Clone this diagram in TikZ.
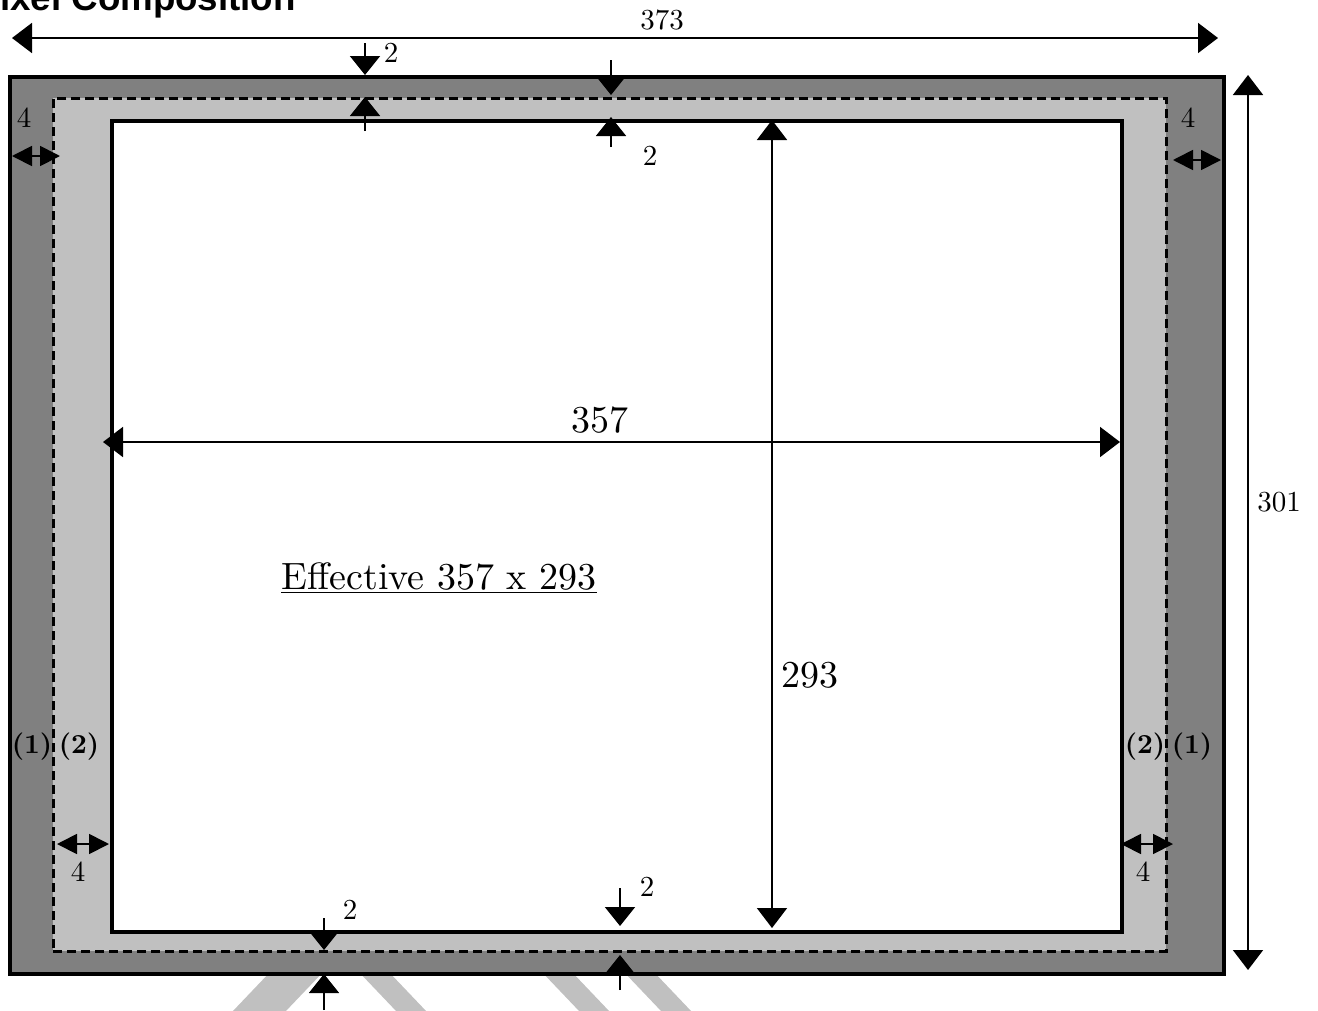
\documentclass[tikz,border=0pt]{standalone}
\usepackage{fontspec}
\setmainfont{lmroman10-regular.otf}[BoldFont=lmroman10-bold.otf]
\newfontfamily\titlefont{Liberation Sans}
\usetikzlibrary{arrows.meta}
\definecolor{darkband}{HTML}{808080}
\definecolor{lightband}{HTML}{C0C0C0}
\begin{document}
\begin{tikzpicture}[x=1pt,y=-1pt,
  stripe/.style={fill=lightband,draw=none},
  frameline/.style={draw=black,line width=4pt},
  dimline/.style={line width=1.8pt,{Triangle[length=20pt,width=30pt]}-{Triangle[length=20pt,width=30pt]}},
  marker/.style={line width=1.8pt,-{Triangle[length=19pt,width=30pt]}},
  quad/.style={line width=1.8pt,{Triangle[length=20pt,width=20pt]}-{Triangle[length=20pt,width=20pt]}},
  small/.style={inner sep=0pt,font=\fontsize{29}{31}\selectfont},
  big/.style={inner sep=0pt,font=\fontsize{38}{40}\selectfont},
  layer/.style={inner sep=0pt,font=\bfseries\fontsize{27.5}{29}\selectfont}]
\useasboundingbox (0,0) rectangle (1318,1010);
% title (cut off)
\node[anchor=base west,inner sep=0pt,font=\titlefont\bfseries\fontsize{36.7}{40}\selectfont] (title) at (-24.5,10) {Pixel Composition};
% stripes below the frame
\fill[stripe] (232,1012) -- (285,1012) -- (325,970) -- (272,970) -- cycle;
\fill[stripe] (357,970) -- (387,970) -- (427,1012) -- (397,1012) -- cycle;
\fill[stripe] (540,970) -- (570,970) -- (610,1012) -- (580,1012) -- cycle;
\fill[stripe] (622,970) -- (652,970) -- (692,1012) -- (662,1012) -- cycle;
% frames
\node[frameline,fill=darkband,minimum width=1214pt,minimum height=897pt,inner sep=0pt,anchor=north west] (outer) at (8,75) {};
\node[draw=black,dashed,dash pattern=on 9pt off 5pt,line width=2.5pt,fill=lightband,minimum width=1113pt,minimum height=853pt,inner sep=0pt,anchor=north west] (dash) at (52,97) {};
\node[frameline,fill=white,minimum width=1010pt,minimum height=811pt,inner sep=0pt,anchor=north west] (inner) at (110,118.5) {};
% overall dimensions
\coordinate (wL) at (12,38); \coordinate (wR) at (1218,38);
\draw[dimline] (wL) -- (wR);
\node[small] (w) at (662,20) {373};
\coordinate (hT) at (1248,75); \coordinate (hB) at (1248,970);
\draw[dimline] (hT) -- (hB);
\node[small] (h) at (1279,502) {301};
% effective dimensions
\coordinate (eL) at (103,442); \coordinate (eR) at (1120,442);
\draw[dimline] (eL) -- (eR);
\node[big] (ew) at (600,420) {357};
\coordinate (eT) at (772,120); \coordinate (eB) at (772,928);
\draw[dimline] (eT) -- (eB);
\node[big] (eh) at (810,675) {293};
\node[big] (eff) at (439,578) {\underline{Effective 357 x 293}};
% 2-markers top
\coordinate (a1) at (365,43); \coordinate (a2) at (365,75);
\coordinate (a3) at (365,131); \coordinate (a4) at (365,97);
\draw[marker] (a1) -- (a2); \draw[marker] (a3) -- (a4);
\node[small] (l1) at (391,53) {2};
\coordinate (b1) at (611,60); \coordinate (b2) at (611,95);
\coordinate (b3) at (611,147); \coordinate (b4) at (611,117);
\draw[marker] (b1) -- (b2); \draw[marker] (b3) -- (b4);
\node[small] (l2) at (650,156) {2};
% 2-markers bottom
\coordinate (c1) at (324,918); \coordinate (c2) at (324,950);
\coordinate (c3) at (324,1010); \coordinate (c4) at (324,974);
\draw[marker] (c1) -- (c2); \draw[marker] (c3) -- (c4);
\node[small] (l3) at (350,910) {2};
\coordinate (d1) at (620,888); \coordinate (d2) at (620,926);
\coordinate (d3) at (620,990); \coordinate (d4) at (620,955);
\draw[marker] (d1) -- (d2); \draw[marker] (d3) -- (d4);
\node[small] (l4) at (647,887) {2};
% 4-markers
\coordinate (q1) at (12,156); \coordinate (q2) at (60,156);
\draw[quad] (q1) -- (q2);
\node[small] (k1) at (24,118) {4};
\coordinate (q3) at (1173,160); \coordinate (q4) at (1221,160);
\draw[quad] (q3) -- (q4);
\node[small] (k2) at (1188,118) {4};
\coordinate (q5) at (57,844); \coordinate (q6) at (109,844);
\draw[quad] (q5) -- (q6);
\node[small] (k3) at (78,872) {4};
\coordinate (q7) at (1121,844); \coordinate (q8) at (1173,844);
\draw[quad] (q7) -- (q8);
\node[small] (k4) at (1143,872) {4};
% layer labels
\node[layer] (p1) at (32,747) {(1)};
\node[layer] (p2) at (79,747) {(2)};
\node[layer] (p3) at (1145,747) {(2)};
\node[layer] (p4) at (1192,747) {(1)};
\end{tikzpicture}
\end{document}
